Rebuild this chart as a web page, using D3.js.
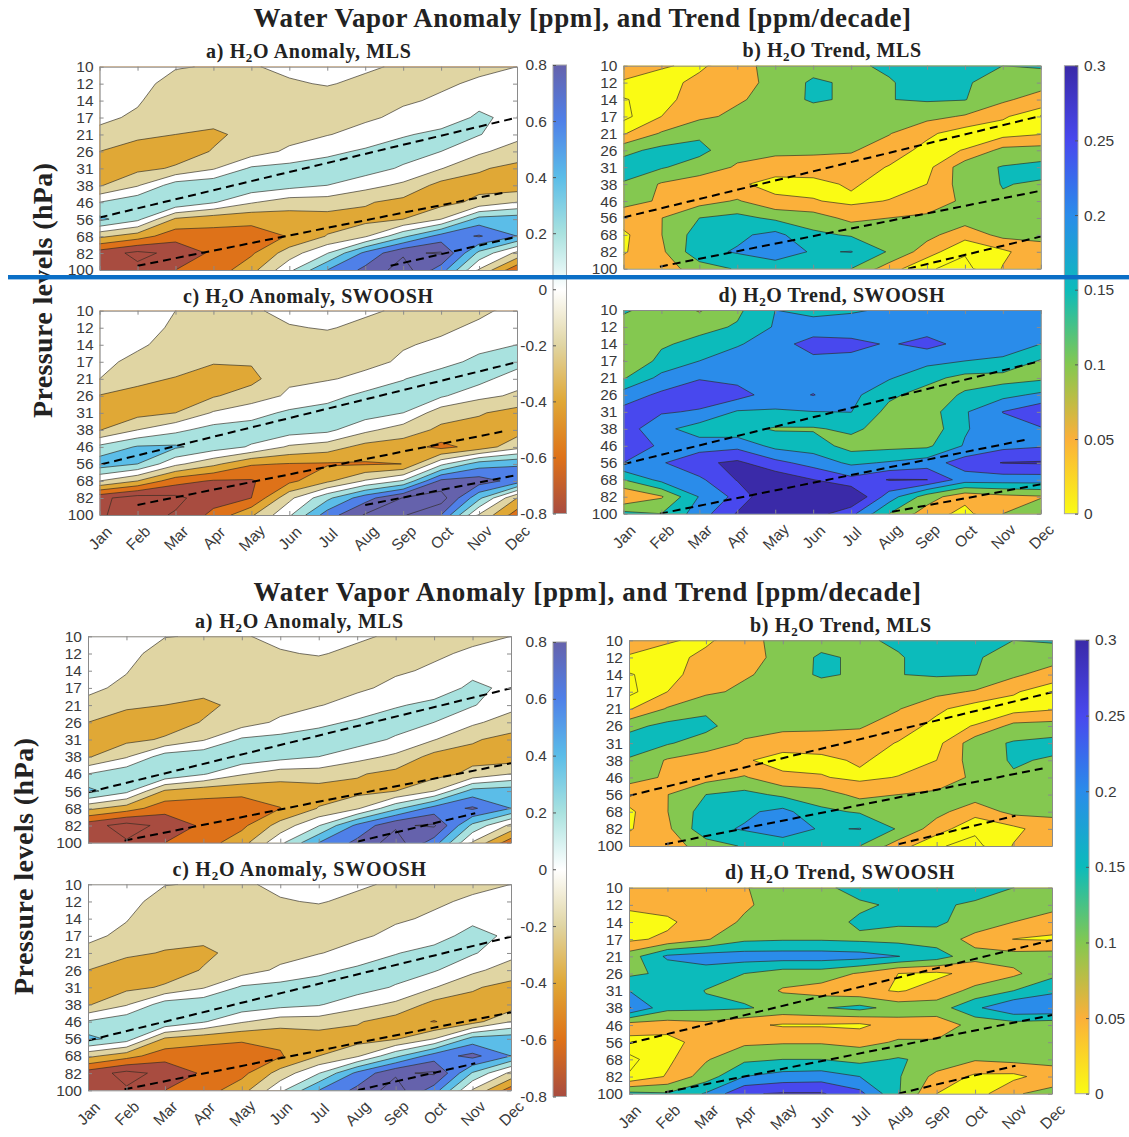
<!DOCTYPE html>
<html><head><meta charset="utf-8">
<script src="https://cdn.jsdelivr.net/npm/d3@7"></script>
<style>html,body{margin:0;padding:0;background:#fff}svg{display:block}</style>
</head><body><svg id="c" width="1129" height="1137"></svg>
<script>
const months=["Jan","Feb","Mar","Apr","May","Jun","Jul","Aug","Sep","Oct","Nov","Dec"];
const levels=[10,12,14,17,21,26,31,38,46,56,68,82,100];
const anomalyTicks=[-0.8,-0.6,-0.4,-0.2,0,0.2,0.4,0.6,0.8];
const trendTicks=[0,0.05,0.1,0.15,0.2,0.25,0.3];
const anomalyLevels=[-0.9,-0.7,-0.5,-0.3,-0.1,0.1,0.3,0.5,0.7,0.9];
const trendLevels=[-0.025,0.025,0.075,0.125,0.175,0.225,0.275];
const anomalyStops=[[-0.8,"#A84C40"],[-0.6,"#DE7219"],[-0.4,"#E0A836"],[-0.2,"#E0D5A3"],[0,"#FFFFFF"],[0.2,"#A9E2DF"],[0.4,"#5BBDE8"],[0.6,"#4F80E8"],[0.8,"#6562AC"]];
const trendStops=[[0,"#FAFB14"],[0.05,"#FBB03A"],[0.1,"#84C850"],[0.15,"#0CBBBB"],[0.2,"#2A8CEA"],[0.25,"#4848EE"],[0.3,"#3A2AA8"]];

const anomalyMls1=[
[.02,.02,-.08,-.12,-.11,-.07,-.06,-.08,-.12,-.15,-.13,-.10],
[.01,-.01,-.2,-.15,-.13,-.115,-.09,-.13,-.13,-.12,-.08,-.03],
[-.01,-.08,-.22,-.18,-.16,-.14,-.16,-.15,-.12,-.08,.05,.0],
[-.06,-.13,-.25,-.24,-.2,-.17,-.15,-.13,-.06,.0,.13,.05],
[-.15,-.26,-.3,-.33,-.25,-.18,-.11,-.03,.08,.15,.11,-.03],
[-.3,-.38,-.38,-.29,-.2,-.06,.05,.13,.2,.1,-.06,-.2],
[-.38,-.35,-.28,-.12,.13,.17,.2,.2,.07,-.09,-.28,-.35],
[-.32,-.12,.2,.25,.24,.17,.1,-.03,-.14,-.37,-.36,-.42],
[.1,.25,.28,.12,-.08,-.2,-.2,-.28,-.36,-.37,-.25,-.1],
[.35,.15,-.33,-.42,-.45,-.4,-.38,-.36,-.3,-.1,.38,.42],
[-.25,-.4,-.62,-.58,-.58,-.49,-.29,-.13,.25,.58,.72,.5],
[-.8,-.95,-.85,-.66,-.53,-.2,.09,.55,.87,.92,.25,-.15],
[-.75,-.85,-.7,-.62,-.37,.05,.5,.75,1.0,.6,-.12,-.65]];
const trendMls1=[
[.05,.03,.015,.06,.09,.1,.115,.135,.15,.14,.125,.13],
[.02,.005,.04,.062,.085,.135,.115,.12,.15,.13,.105,.1],
[-.03,.005,.055,.07,.09,.135,.115,.124,.13,.127,.085,.05],
[-.04,.025,.065,.085,.1,.085,.11,.11,.09,.07,.03,.0],
[.02,.08,.115,.095,.105,.1,.105,.078,.035,.0,.005,.02],
[.11,.14,.14,.09,.09,.085,.08,.05,.01,.027,.09,.095],
[.15,.13,.1,.07,.045,.05,.05,.022,.01,.105,.128,.14],
[.12,.07,.05,.032,.01,.01,.032,.005,.025,.1,.127,.12],
[.09,.07,.055,.08,.035,.028,.015,.027,.06,.08,.12,.115],
[.05,.074,.125,.14,.115,.1,.06,.075,.08,.1,.11,.11],
[.015,.074,.15,.165,.19,.135,.12,.11,.09,.045,.09,.085],
[.02,.065,.16,.18,.2,.17,.177,.12,.05,-.02,.015,.06],
[.05,.05,.1,.13,.15,.14,.125,.05,-.02,-.04,.028,.065]];
const anomalySwoosh1=[
[.04,.02,-.1,-.12,-.12,-.06,-.06,-.08,-.12,-.14,-.12,-.07],
[.03,.0,-.14,-.15,-.15,-.11,-.09,-.13,-.13,-.12,-.08,-.02],
[.0,-.07,-.17,-.2,-.22,-.14,-.16,-.13,-.11,-.08,.03,.1],
[-.05,-.15,-.22,-.29,-.28,-.17,-.15,-.14,-.08,.02,.16,.2],
[-.1,-.26,-.31,-.36,-.36,-.13,-.115,-.06,.09,.22,.18,-.03],
[-.31,-.35,-.36,-.32,-.2,-.07,.02,.16,.2,.13,-.05,-.13],
[-.38,-.37,-.3,-.08,.02,.14,.2,.2,.1,-.22,-.28,-.38],
[-.31,-.1,.05,.18,.2,.2,.15,-.05,-.2,-.34,-.38,-.39],
[.15,.32,.33,.2,.08,-.13,-.2,-.37,-.4,-.56,-.42,-.17],
[.42,.3,-.05,-.25,-.48,-.51,-.52,-.52,-.499,.05,.4,.48],
[-.1,-.3,-.62,-.72,-.72,-.55,-.34,-.08,.12,.75,.8,.62],
[-.85,-1.0,-.95,-.78,-.7,-.15,.25,.62,.91,1.0,.35,-.3],
[-.88,-.98,-.88,-.65,-.33,.07,.6,.92,.92,.7,-.12,-.6]];
const trendSwoosh1=[
[.13,.11,.07,.115,.175,.165,.17,.18,.2,.2,.2,.2],
[.11,.11,.11,.13,.18,.19,.195,.2,.205,.2,.2,.2],
[.1,.118,.14,.17,.2,.25,.24,.22,.24,.21,.19,.175],
[.074,.14,.175,.2,.205,.21,.21,.2,.19,.175,.17,.12],
[.12,.19,.222,.21,.21,.2,.2,.18,.14,.11,.105,.115],
[.2,.235,.25,.245,.2,.227,.19,.135,.105,.13,.16,.185],
[.24,.23,.22,.17,.17,.174,.176,.11,.1,.17,.226,.265],
[.25,.19,.15,.14,.12,.12,.135,.105,.09,.17,.21,.22],
[.245,.22,.2,.21,.16,.15,.105,.11,.115,.18,.21,.22],
[.225,.22,.265,.285,.24,.205,.165,.18,.2,.25,.277,.28],
[.125,.19,.215,.278,.31,.276,.24,.278,.276,.2,.2,.2],
[.025,.07,.178,.24,.33,.31,.33,.2,.1,.04,.06,.07],
[.14,.125,.2,.28,.32,.3,.24,.125,.05,.01,.075,.12]];
const anomalyMls2=[
[.02,.01,-.09,-.12,-.11,-.07,-.06,-.08,-.12,-.15,-.13,-.10],
[.01,-.01,-.22,-.16,-.13,-.11,-.09,-.13,-.13,-.12,-.08,-.03],
[-.01,-.09,-.23,-.18,-.16,-.14,-.16,-.15,-.12,-.08,.05,.0],
[-.06,-.14,-.25,-.24,-.2,-.17,-.15,-.13,-.06,.0,.14,.06],
[-.15,-.27,-.3,-.34,-.25,-.18,-.11,-.03,.08,.15,.115,-.03],
[-.3,-.38,-.38,-.29,-.2,-.06,.05,.13,.2,.1,-.06,-.2],
[-.38,-.35,-.28,-.12,.13,.17,.2,.2,.07,-.09,-.28,-.36],
[-.32,-.12,.2,.25,.24,.17,.1,-.03,-.14,-.37,-.36,-.42],
[.1,.25,.28,.12,-.08,-.2,-.2,-.28,-.36,-.38,-.25,-.1],
[.36,.15,-.33,-.42,-.45,-.42,-.38,-.36,-.3,-.1,.38,.42],
[-.25,-.4,-.62,-.6,-.6,-.505,-.29,-.13,.25,.58,.73,.5],
[-.82,-.98,-.85,-.66,-.55,-.22,.09,.55,.87,.93,.25,-.15],
[-.75,-.88,-.7,-.6,-.38,.05,.5,.75,1.0,.6,-.12,-.62]];
const trendMls2=[
[.05,.03,.015,.06,.09,.1,.115,.135,.15,.14,.125,.13],
[.02,.005,.04,.062,.085,.135,.115,.12,.15,.13,.105,.1],
[-.03,.005,.055,.07,.09,.135,.115,.124,.13,.127,.085,.05],
[-.04,.025,.065,.085,.1,.085,.11,.11,.09,.07,.03,.0],
[.02,.08,.115,.095,.105,.1,.105,.078,.035,.0,.005,.02],
[.11,.14,.14,.09,.09,.085,.08,.05,.01,.027,.09,.095],
[.15,.13,.1,.07,.045,.05,.05,.022,.01,.105,.13,.14],
[.12,.07,.05,.03,.008,.012,.032,.005,.025,.1,.13,.12],
[.09,.07,.055,.08,.035,.028,.015,.027,.06,.08,.12,.115],
[.05,.074,.125,.14,.115,.1,.06,.075,.08,.1,.11,.11],
[.015,.074,.15,.165,.19,.135,.12,.11,.09,.045,.09,.085],
[.02,.065,.16,.18,.2,.17,.177,.12,.05,-.015,.012,.055],
[.05,.05,.1,.13,.15,.14,.125,.05,-.02,-.04,.028,.065]];
const anomalySwoosh2=[
[.02,.01,-.09,-.12,-.12,-.07,-.06,-.08,-.12,-.15,-.13,-.10],
[.01,-.01,-.21,-.15,-.14,-.11,-.09,-.13,-.13,-.12,-.08,-.03],
[-.01,-.09,-.22,-.18,-.16,-.14,-.16,-.15,-.12,-.08,.05,.0],
[-.06,-.14,-.25,-.26,-.2,-.17,-.15,-.13,-.06,.02,.17,.06],
[-.15,-.27,-.31,-.33,-.25,-.18,-.11,-.03,.09,.17,.12,-.03],
[-.3,-.38,-.38,-.29,-.2,-.06,.05,.14,.2,.12,-.05,-.2],
[-.38,-.35,-.28,-.12,.13,.17,.2,.2,.08,-.09,-.28,-.36],
[-.32,-.12,.2,.25,.24,.17,.12,-.03,-.14,-.37,-.36,-.42],
[.12,.25,.28,.12,-.08,-.2,-.2,-.28,-.4,-.51,-.38,-.1],
[.36,.2,-.33,-.42,-.47,-.46,-.4,-.38,-.32,-.1,.38,.42],
[-.25,-.42,-.62,-.63,-.62,-.52,-.3,-.13,.25,.6,.76,.5],
[-.8,-.96,-.85,-.67,-.56,-.22,.09,.55,.87,.93,.28,-.15],
[-.78,-.88,-.7,-.6,-.38,.05,.5,.75,1.0,.6,-.12,-.6]];
const trendSwoosh2=[
[.07,.05,.05,.073,.09,.11,.15,.14,.14,.14,.125,.12],
[.03,.045,.05,.07,.09,.1,.115,.135,.13,.12,.11,.1],
[.015,.015,.055,.08,.1,.1,.135,.13,.135,.1,.075,.04],
[.015,.035,.07,.115,.12,.12,.115,.11,.1,.06,.024,.02],
[.1,.185,.2,.2,.2,.2,.195,.176,.15,.09,.095,.1],
[.115,.135,.15,.125,.1,.1,.07,.025,.015,.04,.065,.11],
[.175,.16,.123,.11,.07,.055,.04,.02,.045,.09,.125,.165],
[.23,.14,.135,.13,.11,.122,.14,.105,.1,.165,.22,.22],
[.05,.05,.06,.035,.02,.02,.015,.05,.05,.09,.1,.09],
[.01,.005,.05,.065,.07,.07,.06,.08,.08,.1,.1,.1],
[-.04,.015,.07,.115,.125,.125,.11,.13,.11,.08,.09,.09],
[-.02,.03,.1,.175,.195,.2,.175,.13,.06,.015,.012,.05],
[.14,.13,.18,.27,.28,.28,.24,.13,.025,.0,.07,.09]];

// dashed tape-recorder lines: [month index, level index] end points
const dashA1=[[[0,8.9],[11,3.0]],[[1,11.75],[10.66,7.43]],[[7.67,11.75],[11,10.04]]];
const dashB1=[[[0,8.97],[11,2.97]],[[.96,11.88],[11,7.39]],[[7.5,12],[11,10.1]]];
const dashC1=[[[.05,9.02],[11,3.02]],[[1,11.41],[10.7,7.06]],[[7,11.41],[11,9.65]]];
const dashD1=[[[0,9.08],[10.86,3.08]],[[.96,12],[10.7,7.6]],[[7.08,11.89],[11,10.27]]];
const dashA2=[[[0,9.07],[11,3.02]],[[.95,11.88],[11,7.38]],[[7,11.94],[10.07,10.29]]];
const dashB2=[[[0,9.07],[11,3.03]],[[.94,11.9],[10.85,7.43]],[[7,11.9],[10.05,10.23]]];
const dashC2=[[[0,9.1],[11,3.05]],[[.95,11.94],[11,7.46]],[[7,12],[10.07,10.43]]];
const dashD2=[[[0,9.07],[11,3.05]],[[.94,11.92],[11,7.42]],[[7,12],[10.05,10.37]]];

const svg=d3.select("#c");
const SANS="'Liberation Sans',Arial,sans-serif", SERIF="'Liberation Serif',serif", INK="#3a3a3a";
function colorFn(stops){return d3.scaleLinear().domain(stops.map(d=>d[0])).range(stops.map(d=>d[1])).clamp(true);}
const anomalyColor=colorFn(anomalyStops), trendColor=colorFn(trendStops);
let clipId=0;

function panel(p){
  const x=d3.scaleLinear().domain([0,11]).range([p.x0,p.x1]);
  const y=d3.scaleLinear().domain([0,12]).range([p.y0,p.y1]);
  const xA=d3.scalePoint().domain(months).range([p.x0,p.x1]);
  const yA=d3.scalePoint().domain(levels).range([p.y0,p.y1]);
  const trend=p.kind==="trend";
  const thr=trend?trendLevels:anomalyLevels, col=trend?trendColor:anomalyColor, half=trend?.025:.1;
  const id="clip"+(clipId++);
  svg.append("clipPath").attr("id",id).append("rect").attr("x",p.x0).attr("y",p.y0).attr("width",p.x1-p.x0).attr("height",p.y1-p.y0);
  const g=svg.append("g").attr("clip-path",`url(#${id})`);
  g.append("rect").attr("x",p.x0).attr("y",p.y0).attr("width",p.x1-p.x0).attr("height",p.y1-p.y0).attr("fill",col(thr[0]-half));
  const gen=d3.contours().size([12,13]).thresholds(thr);
  const path=d3.geoPath(d3.geoTransform({point(a,b){this.stream.point(x(a-.5),y(b-.5));}}));
  const cs=gen(p.data.flat());
  g.selectAll("path.f").data(cs).join("path").attr("class","f").attr("d",path)
    .attr("fill",d=>col(d.value+half)).attr("stroke","#2f2a20").attr("stroke-opacity",.72).attr("stroke-width",.9).attr("stroke-linejoin","round");
  const line=d3.line().x(d=>x(d[0])).y(d=>y(d[1]));
  g.selectAll("path.d").data(p.dash).join("path").attr("class","d").attr("d",line).attr("fill","none")
    .attr("stroke","#000").attr("stroke-width",2).attr("stroke-dasharray","8,5");
  const ax=(gen_,tx,ty,labels)=>{
    const a=svg.append("g").attr("transform",`translate(${tx},${ty})`).call(gen_.tickSizeOuter(0));
    a.selectAll("path.domain,line").attr("stroke","#8a8a8a").attr("stroke-width",1);
    a.selectAll("text").attr("font-family",SANS).attr("font-size",15.5).attr("fill",INK);
    if(!labels)a.selectAll("text").remove();
    return a;
  };
  ax(d3.axisTop(xA).tickSizeInner(-4),0,p.y0,false);
  ax(d3.axisRight(yA).tickSizeInner(-4),p.x1,0,false);
  ax(d3.axisLeft(yA).tickSizeInner(-4).tickPadding(6),p.x0,0,true);
  const b=ax(d3.axisBottom(xA).tickSizeInner(-4),0,p.y1,p.xLabels);
  if(p.xLabels){
    b.selectAll("text").attr("text-anchor","middle").attr("y",0).attr("dy",".35em")
     .attr("transform","translate(0,23) rotate(-45)");
  }
}

function fitText(sel,target){
  const n=sel.node(), len=n.getComputedTextLength(), c=n.textContent.length;
  sel.attr("letter-spacing",(target-len)/(c-1));
}
function subTitle(letter,name,source,x0,x1,base){
  const t=svg.append("text").attr("x",x0).attr("y",base).attr("font-family",SERIF).attr("font-weight","bold").attr("font-size",20).attr("fill","#222");
  t.append("tspan").text(letter+") H");
  t.append("tspan").attr("font-size",13).attr("dy",4).text("2");
  t.append("tspan").attr("dy",-4).text("O "+name+", "+source);
  fitText(t,x1-x0);
}
function bigTitle(s,x0,x1,base){
  const t=svg.append("text").attr("x",x0).attr("y",base).attr("font-family",SERIF).attr("font-weight","bold").attr("font-size",27).attr("fill","#222").text(s);
  fitText(t,x1-x0);
}
function yLabel(xb,y0,y1){
  const t=svg.append("text").attr("transform",`translate(${xb},${y1}) rotate(-90)`).attr("font-family",SERIF).attr("font-weight","bold").attr("font-size",28).attr("fill","#222").text("Pressure levels (hPa)");
  fitText(t,y1-y0);
}
function colorbar(c){
  const stops=c.kind==="trend"?trendStops:anomalyStops, col=c.kind==="trend"?trendColor:anomalyColor, ticks=c.kind==="trend"?trendTicks:anomalyTicks;
  const dom=d3.extent(stops,d=>d[0]);
  const s=d3.scaleLinear().domain(dom).range([c.y1,c.y0]);
  const id="cb"+(clipId++);
  const gr=svg.append("linearGradient").attr("id",id).attr("x1",0).attr("x2",0).attr("y1",1).attr("y2",0);
  stops.forEach(d=>gr.append("stop").attr("offset",(d[0]-dom[0])/(dom[1]-dom[0])).attr("stop-color",col(d[0])));
  svg.append("rect").attr("x",c.x0).attr("y",c.y0).attr("width",c.x1-c.x0).attr("height",c.y1-c.y0).attr("fill",`url(#${id})`).attr("stroke","#a5a5a5").attr("stroke-width",1);
  const axisGen=(c.side==="left"?d3.axisLeft(s):d3.axisRight(s)).tickValues(ticks).tickFormat(d=>String(+d.toFixed(2))).tickSizeOuter(0).tickSizeInner(-3).tickPadding(c.pad);
  const a=svg.append("g").attr("transform",`translate(${c.side==="left"?c.x0:c.x1},0)`).call(axisGen);
  a.select("path.domain").remove();
  a.selectAll("line").attr("stroke","#555");
  a.selectAll("text").attr("font-family",SANS).attr("font-size",15.5).attr("fill",INK);
}

const L1=[99.6,517], R1=[623.5,1040.8], L2=[88,511], R2=[629,1052];
panel({kind:"anomaly",x0:L1[0],x1:L1[1],y0:66.7,y1:270,data:anomalyMls1,dash:dashA1,xLabels:false});
panel({kind:"trend",x0:R1[0],x1:R1[1],y0:65.7,y1:268.7,data:trendMls1,dash:dashB1,xLabels:false});
panel({kind:"anomaly",x0:L1[0],x1:L1[1],y0:310.7,y1:515,data:anomalySwoosh1,dash:dashC1,xLabels:true});
panel({kind:"trend",x0:R1[0],x1:R1[1],y0:310,y1:513.7,data:trendSwoosh1,dash:dashD1,xLabels:true});
panel({kind:"anomaly",x0:L2[0],x1:L2[1],y0:636.3,y1:842.7,data:anomalyMls2,dash:dashA2,xLabels:false});
panel({kind:"trend",x0:R2[0],x1:R2[1],y0:640.3,y1:846,data:trendMls2,dash:dashB2,xLabels:false});
panel({kind:"anomaly",x0:L2[0],x1:L2[1],y0:884.3,y1:1090.3,data:anomalySwoosh2,dash:dashC2,xLabels:true});
panel({kind:"trend",x0:R2[0],x1:R2[1],y0:887.7,y1:1093.7,data:trendSwoosh2,dash:dashD2,xLabels:true});

colorbar({kind:"anomaly",side:"left",x0:553,x1:566.5,y0:65,y1:513.5,pad:6});
colorbar({kind:"trend",side:"right",x0:1064.4,x1:1078,y0:65.7,y1:513.7,pad:6});
colorbar({kind:"anomaly",side:"left",x0:553,x1:566.5,y0:642,y1:1096.5,pad:6});
colorbar({kind:"trend",side:"right",x0:1075,x1:1089,y0:640,y1:1093.7,pad:6});

const mainTitle="Water Vapor Anomaly [ppm], and Trend [ppm/decade]";
bigTitle(mainTitle,253.6,911,27);
bigTitle(mainTitle,253.6,921,601);
subTitle("a","Anomaly","MLS",206,411,58);
subTitle("b","Trend","MLS",742.5,921,57);
subTitle("c","Anomaly","SWOOSH",183,433,302.7);
subTitle("d","Trend","SWOOSH",718.6,944.6,301.7);
subTitle("a","Anomaly","MLS",195,403,627.7);
subTitle("b","Trend","MLS",750,931,631.7);
subTitle("c","Anomaly","SWOOSH",172.5,426,875.7);
subTitle("d","Trend","SWOOSH",725,954.4,879);
yLabel(52,163,418);
yLabel(33,738,995);
svg.append("rect").attr("x",8).attr("y",275).attr("width",1121).attr("height",4.4).attr("fill","#0B6FC6");
</script></body></html>
